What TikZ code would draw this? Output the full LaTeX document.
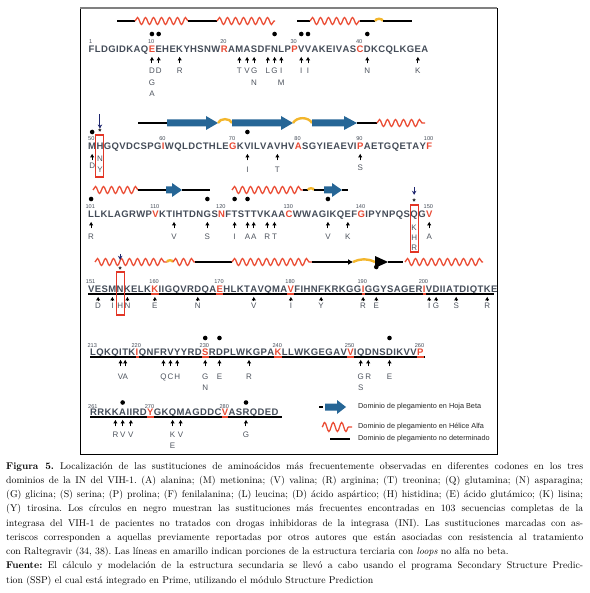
\documentclass[tikz,border=0pt]{standalone}
\usepackage{fontspec}
\usepackage{xcolor}
\usepackage{tikz}
\usetikzlibrary{
    arrows.meta,
    positioning,
    decorations.pathmorphing,
    calc
}
\newfontfamily\seqfont{Liberation Sans}
\frenchspacing

\definecolor{resgray}{RGB}{68,76,88}
\definecolor{subgray}{RGB}{78,84,94}
\definecolor{resred}{RGB}{232,74,52}
\definecolor{helixred}{RGB}{234,76,52}
\definecolor{betablue}{RGB}{38,102,150}
\definecolor{loopyellow}{RGB}{243,182,44}
\definecolor{boxred}{RGB}{226,54,38}
\definecolor{navy}{RGB}{30,38,110}

\newcommand{\seqrow}[5]{%
  \foreach \aa [count=\k from #1] in {#4}{%
    \pgfmathtruncatemacro{\kprev}{\k-1}%
    \gdef\rescol{resgray}%
    \foreach \rr in {#5}{\ifnum\rr=\k\relax\gdef\rescol{resred}\fi}%
    \ifnum\k=#1\relax
      \node[res,text=\rescol,anchor=base west] (r\k) at (#2,#3) {\aa};
    \else
      \node[res,text=\rescol,anchor=base west] (r\k) at (r\kprev.base east) {\aa};
    \fi
  }}

\newcommand{\mut}[3][22]{%
  \foreach \ss [count=\j] in {#3}{%
    \pgfmathsetmacro{\dy}{#1+(\j-1)*11.5}%
    \node[sub] (s#2-\j) at ([yshift=-\dy pt]r#2.base) {\ss};
  }%
  \pgfmathsetmacro{\sh}{max(0.6,#1-16.8)}%
  \draw[mutarrow,shorten <=\sh pt] (s#2-1) -- (r#2);
}

\newcommand{\boxsub}[5]{%
  \foreach \ss [count=\j] in {#2}{%
    \pgfmathsetmacro{\dy}{#3+(\j-1)*10.5}%
    \node[sub] (s#1-\j) at ([yshift=-\dy pt]r#1.base) {\ss};
  }%
  \draw[redbox] ([xshift=-4pt,yshift=#4 pt]r#1.base) rectangle ([xshift=4pt,yshift=-#5 pt]r#1.base);
}

\newcommand{\insti}[4]{%
  \node[astx] (a#1) at ([yshift=#2 pt]r#1.base) {*};
  \coordinate (t#1) at ([yshift=#3 pt]a#1.north);
  \draw[insti,shorten >=#4 pt] (t#1) -- (a#1.north);
}

\newcommand{\betaarr}[4]{%
  \fill[betablue] (#1,#4-3.5) -- (#2,#4-3.5) -- (#2,#4-7) -- (#3,#4)
    -- (#2,#4+7) -- (#2,#4+3.5) -- (#1,#4+3.5) -- cycle;
}

\begin{document}
\begin{tikzpicture}[x=1pt,y=-1pt,
    res/.style={font=\seqfont\bfseries\fontsize{9.5}{9.5}\selectfont,
        inner xsep=0pt, inner ysep=0pt, text height=6.8pt, text depth=0pt},
    num/.style={font=\seqfont\fontsize{5.6}{5.6}\selectfont, text=resgray,
        inner sep=0pt, anchor=base},
    sub/.style={font=\seqfont\fontsize{8}{8}\selectfont, text=subgray,
        inner sep=0pt, text height=5.8pt, text depth=0pt, anchor=base},
    hit/.style={circle, fill=black, inner sep=0pt, minimum size=4.6pt},
    astx/.style={font=\seqfont\bfseries\fontsize{8}{8}\selectfont,
        inner sep=0pt, anchor=base},
    mutarrow/.style={-{Latex[length=3.6pt,width=4.4pt]}, line width=1pt,
        shorten >=4pt},
    insti/.style={-{Stealth[length=4pt,width=4.5pt]}, draw=navy, line width=1pt},
    helix/.style={draw=helixred, line width=1.3pt, decorate,
        decoration={snake, amplitude=3.5pt, segment length=8pt}},
    undet/.style={draw=black, line width=2.2pt},
    ylw/.style={draw=loopyellow, line width=2.4pt},
    redbox/.style={draw=boxred, line width=1.1pt},
    seqline/.style={draw=black, line width=1.8pt},
    redseg/.style={draw=resred, line width=1.8pt},
    legtext/.style={font=\seqfont\fontsize{7.3}{7.3}\selectfont, text=black!85,
        anchor=west, inner sep=0pt},
    caption/.style={anchor=north west, text width=577pt, align=justify,
        inner sep=0pt, font=\fontsize{9.8}{14.25}\selectfont}
]
\useasboundingbox (0,0) rectangle (589,593);

\draw[line width=0.7pt] (80,8) rectangle (497,454);
\draw[line width=2pt, gray] (80,8) -- (497,8);

\draw[undet] (117,21) -- (135,21);
\draw[helix] (135,21) -- (188,21);
\draw[undet] (188,21) -- (217,21);
\draw[helix] (217,21) -- (275,21);
\draw[undet] (297,21) -- (310,21);
\draw[helix] (310,21) -- (360,21);
\draw[undet] (360,21) -- (375,21);
\draw[ylw] (375,21) to[bend left=70] (383,21);
\draw[undet] (383,21) -- (412,21);

\seqrow{1}{88.5}{52.5}{F,L,D,G,I,D,K,A,Q,E,E,H,E,K,Y,H,S,N,W,R,A,M,A,S,D,F,N,L,P,P,V,V,A,K,E,I,V,A,S,C,D,K,C,Q,L,K,G,E,A}{10,20,30,40}
\foreach \n in {1,10,20,30,40}
    \node[num] (n\n) at ([xshift=-0.8pt,yshift=9pt]r\n.base) {\n};
\foreach \n in {10,11,27,31,32,41}
    \node[hit] (d\n) at ([yshift=18.5pt]r\n.base) {};
\mut[21.5]{10}{D,G,A}
\mut[21.5]{11}{D}
\mut[21.5]{14}{R}
\mut[21.5]{22}{T}
\mut[21.5]{23}{V}
\mut[21.5]{24}{G,N}
\mut[21.5]{26}{L}
\mut[21.5]{27}{G}
\mut[21.5]{28}{I,M}
\mut[21.5]{31}{I}
\mut[21.5]{32}{I}
\mut[21.5]{41}{N}
\mut[21.5]{48}{K}

\draw[undet] (138,123) -- (167,123);
\betaarr{167}{206}{218}{123}
\draw[ylw] (218,123) to[bend left=70] (232,123);
\betaarr{232}{281}{293}{123}
\draw[ylw] (293,123) to[bend left=60] (312,123);
\betaarr{312}{344}{357}{123}
\draw[undet] (357,123) -- (377,123);
\draw[helix] (377,123) -- (425,123);

\seqrow{50}{88}{149.5}{M,H,G,Q,V,D,C,S,P,G,I,W,Q,L,D,C,T,H,L,E,G,K,V,I,L,V,A,V,H,V,A,S,G,Y,I,E,A,E,V,I,P,A,E,T,G,Q,E,T,A,Y,F}{60,70,80,90,100}
\foreach \n in {50,60,70,80,90,100}
    \node[num] (n\n) at ([xshift=-0.8pt,yshift=9pt]r\n.base) {\n};
\foreach \n in {50,72}
    \node[hit] (d\n) at ([yshift=17.5pt]r\n.base) {};
\insti{51}{15}{15}{0.3}
\mut[19.5]{50}{D}
\boxsub{51}{N,Y}{12.5}{14.5}{27.5}
\mut[23.5]{72}{I}
\mut[23.5]{77}{T}
\mut[21.5]{90}{S}

\draw[helix] (93,190) -- (138,190);
\draw[undet] (138,190) -- (167,190);
\betaarr{166}{172}{182}{190}
\draw[undet] (182,190) -- (210,190);
\draw[helix] (232,190) -- (303,190);
\draw[undet] (303,190) -- (308,190);
\draw[ylw] (308,190) to[bend left=80] (314,190);
\draw[undet] (314,190) -- (324,190);
\betaarr{324}{332}{342}{190}
\draw[undet] (342,190) -- (348,190);

\seqrow{101}{88}{217.5}{L,L,K,L,A,G,R,W,P,V,K,T,I,H,T,D,N,G,S,N,F,T,S,T,T,V,K,A,A,C,W,W,A,G,I,K,Q,E,F,G,I,P,Y,N,P,Q,S,Q,G,V}{110,120,130,140,150}
\foreach \n in {101,110,120,130,140,150}
    \node[num] (n\n) at ([xshift=-0.8pt,yshift=9pt]r\n.base) {\n};
\foreach \n in {101,118,122,124,135}
    \node[hit] (d\n) at ([yshift=18.5pt]r\n.base) {};
\insti{148}{13}{12}{4}
\mut[22.5]{101}{R}
\mut[22.5]{113}{V}
\mut[22.5]{118}{S}
\mut[22.5]{122}{I}
\mut[22.5]{124}{A}
\mut[22.5]{125}{A}
\mut[22.5]{127}{R}
\mut[22.5]{128}{T}
\mut[22.5]{135}{V}
\mut[22.5]{138}{K}
\boxsub{148}{K,H,R}{12.5}{12.5}{34.5}
\mut[22.5]{150}{A}

\draw[helix] (95,262) -- (167,262);
\draw[ylw] (167,262) to[bend left=80] (173,262);
\draw[helix] (173,262) -- (195,262);
\draw[undet] (195,262) -- (232,262);
\draw[helix] (232,262) -- (312,262);
\draw[undet, line width=1.5pt, -{Latex[length=5pt,width=6pt]}] (312,262) -- (353,262);
\draw[ylw] (353,262) to[bend left=25] (375,262);
\fill (375,256) -- (388,262) -- (375,268) -- cycle;
\draw[undet] (388,262) -- (403,262);
\draw[helix] (405,262) -- (483,262);

\seqrow{151}{88}{292.5}{V,E,S,M,N,K,E,L,K,K,I,I,G,Q,V,R,D,Q,A,E,H,L,K,T,A,V,Q,M,A,V,F,I,H,N,F,K,R,K,G,G,I,G,G,Y,S,A,G,E,R,I,V,D,I,I,A,T,D,I,Q,T,K,E}{160,170,180,191,200}
\draw[seqline] (88,294) -- (494,294);
\foreach \n in {160,170,180,191,200}
    \draw[redseg] ([yshift=-1.5pt]r\n.base west) -- ([yshift=-1.5pt]r\n.base east);
\foreach \n/\t in {151/151,160/160,170/170,180/180,191/190,200/200}
    \node[num] (n\n) at ([xshift=-0.8pt,yshift=9pt]r\n.base) {\t};
\node[hit] (d193) at ([yshift=25.5pt]r193.base) {};
\insti{155}{20}{13}{7}
\mut[15.5]{152}{D}
\mut[15.5]{154}{I}
\boxsub{155}{H}{15.5}{20.5}{22.5}
\mut[15.5]{156}{N}
\mut[15.5]{160}{E}
\mut[15.5]{167}{N}
\mut[15.5]{175}{V}
\mut[15.5]{180}{I}
\mut[15.5]{185}{Y}
\mut[15.5]{191}{R}
\mut[15.5]{193}{E}
\mut[15.5]{201}{I}
\mut[15.5]{202}{G}
\mut[15.5]{206}{S}
\mut[15.5]{211}{R}

\seqrow{213}{90}{355.5}{L,Q,K,Q,I,T,K,I,Q,N,F,R,V,Y,Y,R,D,S,R,D,P,L,W,K,G,P,A,K,L,L,W,K,G,E,G,A,V,V,I,Q,D,N,S,D,I,K,V,V,P}{220,230,240,250,261}
\draw[seqline] (90,357) -- (425,357);
\foreach \n in {220,230,240,250,261}
    \draw[redseg] ([yshift=-1.5pt]r\n.base west) -- ([yshift=-1.5pt]r\n.base east);
\foreach \n/\t in {213/213,220/220,230/230,240/240,250/250,261/260}
    \node[num] (n\n) at ([xshift=-0.8pt,yshift=8pt]r\n.base) {\t};
\foreach \n in {230,232,256}
    \node[hit] (d\n) at ([yshift=17.5pt]r\n.base) {};
\mut[23.5]{217}{V}
\mut[23.5]{218}{A}
\mut[23.5]{224}{Q}
\mut[23.5]{225}{C}
\mut[23.5]{226}{H}
\mut[23.5]{230}{G,N}
\mut[23.5]{232}{E}
\mut[23.5]{236}{R}
\mut[23.5]{252}{G,S}
\mut[23.5]{253}{R}
\mut[23.5]{256}{E}

\seqrow{262}{90}{415.5}{R,R,K,K,A,I,I,R,D,Y,G,K,Q,M,A,G,D,D,C,V,A,S,R,Q,D,E,D}{271,281}
\draw[seqline] (90,417) -- (282,417);
\foreach \n in {271,281}
    \draw[redseg] ([yshift=-1.5pt]r\n.base west) -- ([yshift=-1.5pt]r\n.base east);
\foreach \n/\t in {262/261,271/270,281/280}
    \node[num] (n\n) at ([xshift=-0.8pt,yshift=7.5pt]r\n.base) {\t};
\foreach \n in {266,284}
    \node[hit] (d\n) at ([yshift=13pt]r\n.base) {};
\mut[21.5]{265}{R}
\mut[21.5]{266}{V}
\mut[21.5]{268}{V}
\mut[21.5]{274}{K,E}
\mut[21.5]{275}{V}
\mut[21.5]{284}{G}

\fill (319,406.4) rectangle (323,407.6);
\betaarr{325}{337}{346}{407}
\draw[helix, decoration={snake, amplitude=4.5pt, segment length=8.5pt}] (322,427) -- (352,427);
\draw[undet, line width=1.5pt] (330,439) -- (350,439);
\node[legtext] (lbeta) at (358,407) {Dominio de plegamiento en Hoja Beta};
\node[legtext] (lhelix) at (358,427) {Dominio de plegamiento en Hélice Alfa};
\node[legtext] (lundet) at (358,439) {Dominio de plegamiento no determinado};

\node[caption] (cap) at (6,462) {\textbf{Figura 5.} Localización de las sustituciones de aminoácidos más frecuentemente observadas en diferentes codones en los tres\linebreak
dominios de la IN del VIH-1. (A) alanina; (M) metionina; (V) valina; (R) arginina; (T) treonina; (Q) glutamina; (N) asparagina;\linebreak
(G) glicina; (S) serina; (P) prolina; (F) fenilalanina; (L) leucina; (D) ácido aspártico; (H) histidina; (E) ácido glutámico; (K) lisina;\linebreak
(Y) tirosina. Los círculos en negro muestran las sustituciones más frecuentes encontradas en 103 secuencias completas de la\linebreak
integrasa del VIH-1 de pacientes no tratados con drogas inhibidoras de la integrasa (INI). Las sustituciones marcadas con as-\linebreak
teriscos corresponden a aquellas previamente reportadas por otros autores que están asociadas con resistencia al tratamiento\linebreak
con Raltegravir (34, 38). Las líneas en amarillo indican porciones de la estructura terciaria con \textit{loops} no alfa no beta.\par
\textbf{Fuente:} El cálculo y modelación de la estructura secundaria se llevó a cabo usando el programa Secondary Structure Predic-\linebreak
tion (SSP) el cual está integrado en Prime, utilizando el módulo Structure Prediction};

\end{tikzpicture}
\end{document}
